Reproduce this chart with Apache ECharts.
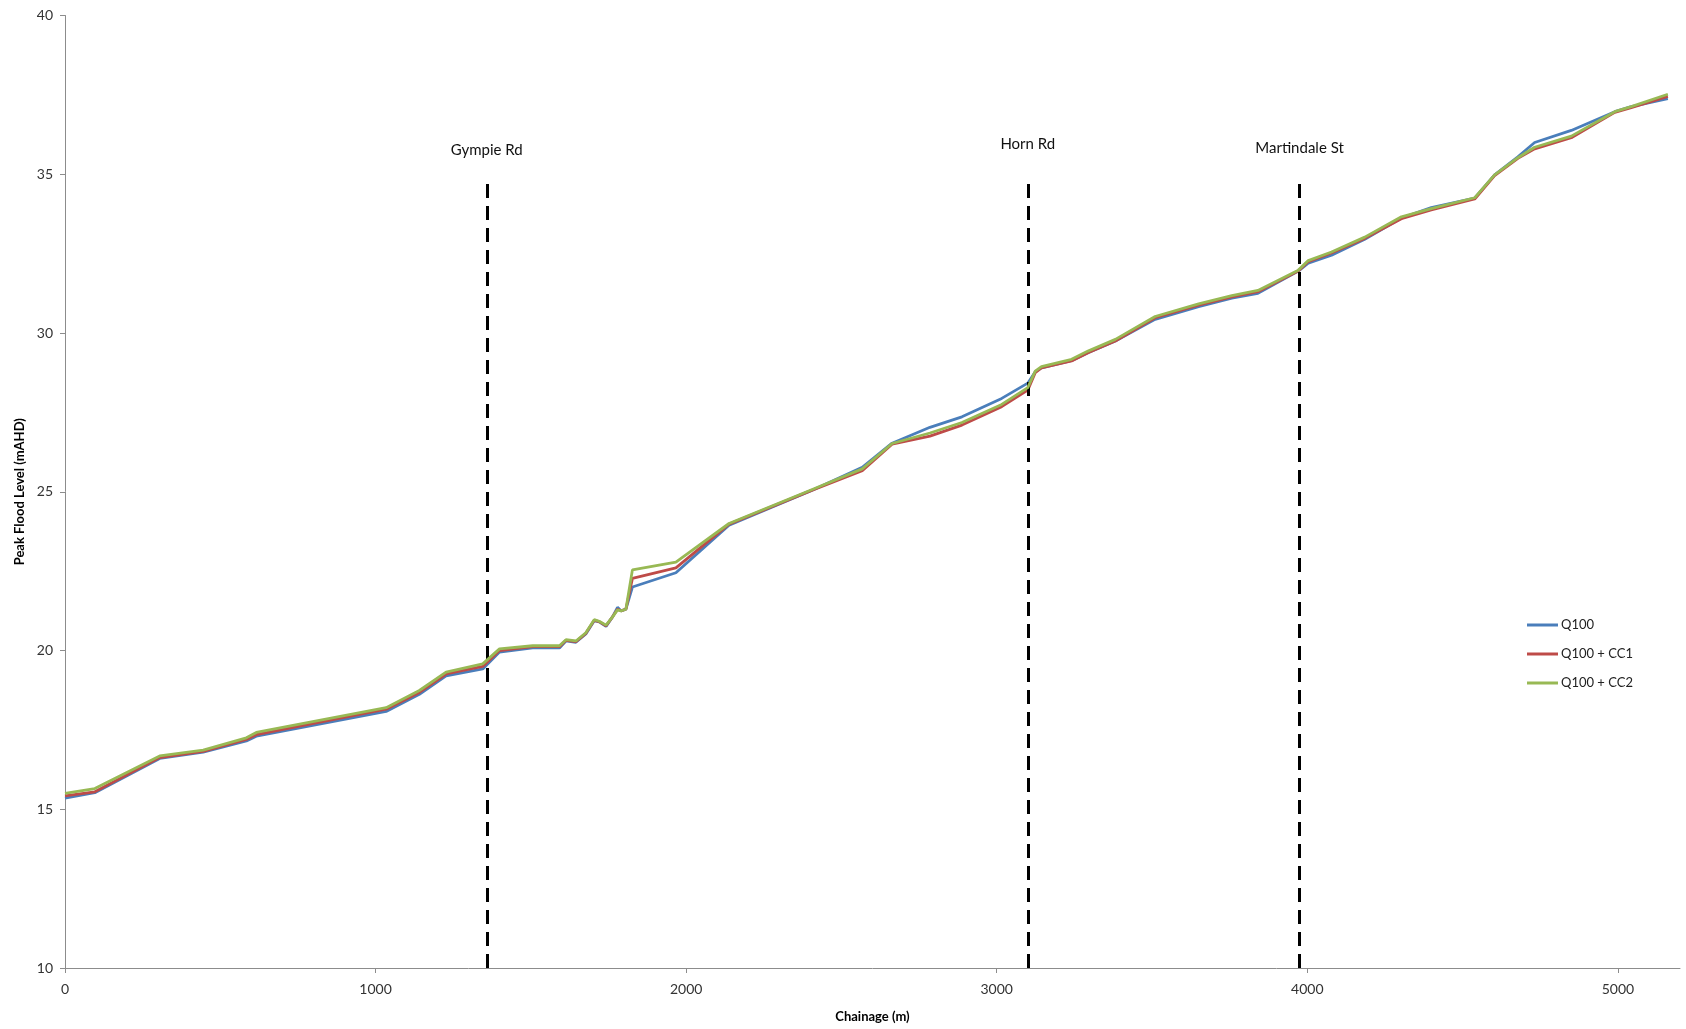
<!DOCTYPE html>
<html>
<head>
<meta charset="utf-8">
<title>Peak Flood Level along Chainage</title>
<script src="https://cdn.jsdelivr.net/npm/echarts@6/dist/echarts.min.js"></script>
<style>
  html, body { margin: 0; padding: 0; background: #ffffff; }
  #chart { width: 1686px; height: 1029px; }
</style>
</head>
<body>
<div id="chart"></div>
<script>
// Chainage (m) of each surveyed section
const chainage = [0, 96, 305, 445, 584, 616, 1034, 1141, 1227, 1345, 1399, 1506, 1592, 1613, 1645, 1677, 1704, 1720, 1742, 1763, 1779, 1790, 1806, 1827, 1967, 2138, 2406, 2567, 2663, 2785, 2888, 3016, 3100, 3124, 3144, 3241, 3294, 3382, 3510, 3650, 3757, 3841, 3971, 4003, 4078, 4185, 4303, 4399, 4539, 4603, 4678, 4732, 4850, 4990, 5043, 5161];

// Peak flood levels (mAHD) for each scenario
const q100 = [15.35, 15.52, 16.60, 16.80, 17.15, 17.30, 18.08, 18.62, 19.20, 19.42, 19.95, 20.08, 20.08, 20.30, 20.26, 20.52, 20.94, 20.90, 20.76, 21.06, 21.36, 21.25, 21.30, 22.00, 22.45, 23.95, 25.05, 25.77, 26.53, 27.03, 27.36, 27.94, 28.42, 28.78, 28.90, 29.13, 29.38, 29.75, 30.43, 30.83, 31.10, 31.25, 31.95, 32.20, 32.45, 32.95, 33.62, 33.95, 34.25, 34.98, 35.55, 36.00, 36.38, 36.97, 37.13, 37.38];
const q100cc1 = [15.42, 15.55, 16.63, 16.82, 17.20, 17.35, 18.15, 18.68, 19.26, 19.50, 20.00, 20.12, 20.12, 20.32, 20.28, 20.54, 20.95, 20.91, 20.78, 21.06, 21.30, 21.25, 21.30, 22.27, 22.60, 23.98, 25.05, 25.66, 26.50, 26.75, 27.10, 27.68, 28.20, 28.75, 28.90, 29.12, 29.38, 29.75, 30.48, 30.88, 31.14, 31.30, 31.95, 32.25, 32.52, 32.98, 33.60, 33.88, 34.22, 34.96, 35.50, 35.80, 36.15, 36.95, 37.10, 37.45];
const q100cc2 = [15.50, 15.65, 16.68, 16.86, 17.25, 17.42, 18.20, 18.74, 19.32, 19.58, 20.05, 20.15, 20.15, 20.34, 20.30, 20.56, 20.97, 20.92, 20.80, 21.06, 21.28, 21.25, 21.30, 22.54, 22.78, 24.00, 25.07, 25.72, 26.52, 26.85, 27.18, 27.75, 28.28, 28.80, 28.94, 29.17, 29.43, 29.80, 30.52, 30.92, 31.18, 31.34, 31.98, 32.28, 32.55, 33.02, 33.66, 33.92, 34.26, 34.98, 35.52, 35.85, 36.20, 36.97, 37.13, 37.52];

const seriesNames = ['Q100', 'Q100 + CC1', 'Q100 + CC2'];

// Road crossings marked with dashed verticals
const roadNames = ['Gympie Rd', 'Horn Rd', 'Martindale St'];
const roadChainage = [1358, 3100, 3975];
const roadLineTop = 34.82;

// Axis ticks
const xTicks = [0, 1000, 2000, 3000, 4000, 5000];
const yTicks = [10, 15, 20, 25, 30, 35, 40];

const colors = ['#4A7EBB', '#BE4B48', '#98B954'];
const labelGaps = [22, 28, 24];

const pairs = (ys) => chainage.map((x, i) => [x, ys[i]]);

const chart = echarts.init(document.getElementById('chart'), null, { renderer: 'canvas' });

const baseFont = 'Lato, "Open Sans", sans-serif';

const option = {
  backgroundColor: '#ffffff',
  animation: false,
  color: colors,
  textStyle: { fontFamily: baseFont },
  grid: { left: 65, top: 15.5, right: 6, bottom: 61, containLabel: false },
  legend: {
    left: 1522,
    top: 612,
    orient: 'vertical',
    icon: 'rect',
    itemWidth: 31,
    itemHeight: 3,
    itemGap: 13,
    textStyle: { fontFamily: baseFont, fontSize: 13, color: '#222', lineHeight: 16, padding: [0, 0, 0, -2] },
    data: seriesNames
  },
  xAxis: {
    type: 'value',
    min: 0,
    max: 5200,
    interval: 1000,
    name: 'Chainage (m)',
    nameLocation: 'middle',
    nameGap: 42,
    nameTextStyle: { fontFamily: baseFont, fontWeight: 'bold', fontSize: 13, color: '#000' },
    axisLine: { show: true, lineStyle: { color: '#8c8c8c', width: 1 } },
    axisTick: { show: true, length: 5, lineStyle: { color: '#8c8c8c' }, customValues: xTicks },
    axisLabel: {
      customValues: xTicks, margin: 14, fontSize: 14, color: '#333', fontFamily: baseFont,
      formatter: (v) => String(v)
    },
    splitLine: { show: false }
  },
  yAxis: {
    type: 'value',
    min: 10,
    max: 40,
    interval: 5,
    name: 'Peak Flood Level (mAHD)',
    nameLocation: 'middle',
    nameGap: 39,
    nameTextStyle: { fontFamily: baseFont, fontWeight: 'bold', fontSize: 13, color: '#000' },
    axisLine: { show: true, lineStyle: { color: '#8c8c8c', width: 1 } },
    axisTick: { show: true, length: 5, lineStyle: { color: '#8c8c8c' }, customValues: yTicks },
    axisLabel: {
      customValues: yTicks, margin: 12, fontSize: 14, color: '#333', fontFamily: baseFont,
      formatter: (v) => String(v)
    },
    splitLine: { show: false }
  },
  series: [
    {
      name: seriesNames[0], type: 'line', symbol: 'none', z: 3,
      lineStyle: { width: 2.8, color: colors[0] },
      data: pairs(q100),
      markLine: {
        silent: true,
        symbol: ['none', 'none'],
        lineStyle: { color: '#000', type: [14, 8], width: 3 },
        data: roadNames.map((name, i) => [
          { coord: [roadChainage[i], 10], name: name },
          {
            coord: [roadChainage[i], roadLineTop],
            label: {
              show: true, position: 'end', distance: labelGaps[i],
              formatter: name, color: '#111', fontSize: 15, fontFamily: baseFont
            }
          }
        ])
      }
    },
    {
      name: seriesNames[1], type: 'line', symbol: 'none', z: 4,
      lineStyle: { width: 2.8, color: colors[1] },
      data: pairs(q100cc1)
    },
    {
      name: seriesNames[2], type: 'line', symbol: 'none', z: 5,
      lineStyle: { width: 2.8, color: colors[2] },
      data: pairs(q100cc2)
    }
  ]
};

chart.setOption(option);
</script>
</body>
</html>
